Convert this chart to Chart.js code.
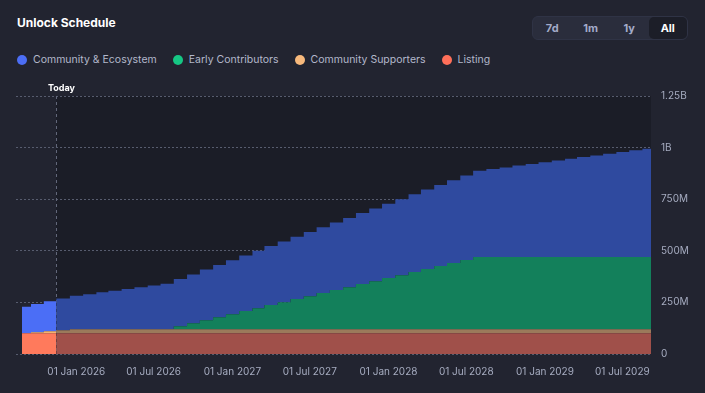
<!DOCTYPE html>
<html>
<head>
<meta charset="utf-8">
<script src="https://cdn.jsdelivr.net/npm/chart.js@4.4.1/dist/chart.umd.min.js"></script>
<style>
  html, body { margin: 0; padding: 0; }
  body { width: 705px; height: 393px; background: #222430; font-family: Inter, 'Noto Sans', sans-serif; overflow: hidden; position: relative; }
  .title { position: absolute; left: 17px; top: 15px; font-size: 12px; font-weight: 700; color: #fff; line-height: 16px; }
  .range { position: absolute; left: 532px; top: 16px; width: 156px; height: 24px; box-sizing: border-box; border: 1px solid #2f3345; background: #2a2d3c; border-radius: 6px; display: flex; }
  .range span { flex: 1; text-align: center; line-height: 22px; font-size: 11px; font-weight: 700; color: #a3abc9; border-radius: 5px; }
  .range span.active { background: #1c1e28; color: #fff; }
  .legend { position: absolute; left: 17px; top: 52px; display: flex; gap: 16px; font-size: 10.5px; color: #b3b8cb; line-height: 16px; }
  .legend div { display: flex; align-items: center; }
  .legend i { width: 10px; height: 10px; border-radius: 50%; margin-right: 6px; display: inline-block; }
  #wrap { position: absolute; left: 0; top: 70px; width: 705px; height: 323px; }
</style>
</head>
<body>
<div class="title">Unlock Schedule</div>
<div class="range"><span>7d</span><span>1m</span><span>1y</span><span class="active">All</span></div>
<div class="legend" id="legend"></div>
<div id="wrap"><canvas id="chart"></canvas></div>
<script>
// unlock dates (step starts at each date)
const dates = [
  '2025-08-27',
  '2025-09-17', '2025-10-17', '2025-11-15', '2025-12-17',
  '2026-01-17', '2026-02-17', '2026-03-17', '2026-04-17', '2026-05-17', '2026-06-17',
  '2026-07-17', '2026-08-17', '2026-09-17', '2026-10-17', '2026-11-17', '2026-12-17',
  '2027-01-17', '2027-02-17', '2027-03-17', '2027-04-17', '2027-05-17', '2027-06-17',
  '2027-07-17', '2027-08-17', '2027-09-17', '2027-10-17', '2027-11-17', '2027-12-17',
  '2028-01-17', '2028-02-17', '2028-03-17', '2028-04-17', '2028-05-17', '2028-06-17',
  '2028-07-17', '2028-08-17', '2028-09-17', '2028-10-17', '2028-11-17', '2028-12-17',
  '2029-01-17', '2029-02-17', '2029-03-17', '2029-04-17', '2029-05-17', '2029-06-17',
  '2029-07-17', '2029-08-17',
  '2029-09-06'
]

// cumulative unlocked, millions of tokens
const listing = [
  100, 100, 100, 100, 100, 100, 100, 100, 100, 100,
  100, 100, 100, 100, 100, 100, 100, 100, 100, 100,
  100, 100, 100, 100, 100, 100, 100, 100, 100, 100,
  100, 100, 100, 100, 100, 100, 100, 100, 100, 100,
  100, 100, 100, 100, 100, 100, 100, 100, 100, 100
]
const supporters = [
  0, 5, 10, 15, 20, 20, 20, 20, 20, 20,
  20, 20, 20, 20, 20, 20, 20, 20, 20, 20,
  20, 20, 20, 20, 20, 20, 20, 20, 20, 20,
  20, 20, 20, 20, 20, 20, 20, 20, 20, 20,
  20, 20, 20, 20, 20, 20, 20, 20, 20, 20
]
const contributors = [
  0, 0, 0, 0, 0, 0, 0, 0, 0, 0,
  0, 0, 15, 29, 44, 58, 73, 88, 102, 117,
  131, 146, 160, 175, 190, 204, 219, 233, 248, 262,
  277, 292, 306, 321, 335, 350, 350, 350, 350, 350,
  350, 350, 350, 350, 350, 350, 350, 350, 350, 350
]
const community = [
  129, 137, 146, 154, 162, 170, 179, 187, 195, 203,
  212, 220, 228, 236, 245, 253, 261, 269, 278, 286,
  294, 302, 311, 319, 327, 335, 344, 352, 360, 368,
  377, 385, 393, 401, 410, 418, 426, 434, 443, 451,
  459, 467, 476, 484, 492, 500, 509, 517, 525, 530
]

const todayDate = '2025-11-15'
const xMin = '2025-08-13'
const xMax = '2029-09-06'
const tickDates = ['2026-01-01', '2026-07-01', '2027-01-01', '2027-07-01', '2028-01-01', '2028-07-01', '2029-01-01', '2029-07-01']
const yTicks = [0, 250, 500, 750, 1000, 1250]

// bottom of the stack first
const series = [
  { label: 'Listing', values: listing, bright: '#ff7a5c', dim: '#a0504a', dot: '#ff6f59' },
  { label: 'Community Supporters', values: supporters, bright: '#f2b472', dim: '#9b7a5b', dot: '#f7b97c' },
  { label: 'Early Contributors', values: contributors, bright: '#17c07f', dim: '#13805b', dot: '#16c784' },
  { label: 'Community & Ecosystem', values: community, bright: '#4b6ef6', dim: '#2f4a9f', dot: '#4c6ef5' },
]

const months = ['Jan', 'Feb', 'Mar', 'Apr', 'May', 'Jun', 'Jul', 'Aug', 'Sep', 'Oct', 'Nov', 'Dec']
const todayTs = Date.parse(todayDate)

function fmtDate(v) {
  const d = new Date(v)
  return String(d.getUTCDate()).padStart(2, '0') + ' ' + months[d.getUTCMonth()] + ' ' + d.getUTCFullYear()
}
function fmtTokens(v) {
  if (v === 0) return '0'
  if (v >= 1000) return (v / 1000) + 'B'
  return v + 'M'
}

// html legend, top of stack first
const legendEl = document.getElementById('legend')
series.slice().reverse().forEach((s) => {
  const item = document.createElement('div')
  item.innerHTML = '<i style="background:' + s.dot + '"></i>' + s.label
  legendEl.appendChild(item)
})

const todayPlugin = {
  id: 'today',
  beforeDraw(chart) {
    const { ctx, chartArea: a, scales: { x } } = chart
    const tx = Math.round(x.getPixelForValue(todayTs))
    ctx.save()
    ctx.fillStyle = '#1b1d27'
    ctx.fillRect(tx, a.top, a.right - tx, a.bottom - a.top)
    ctx.restore()
  },
  beforeDatasetsDraw(chart) {
    const { ctx, chartArea: a, scales: { x } } = chart
    const tx = Math.round(x.getPixelForValue(todayTs)) + 0.5
    ctx.save()
    ctx.strokeStyle = '#62677a'
    ctx.lineWidth = 1
    ctx.setLineDash([3, 3])
    ctx.beginPath()
    ctx.moveTo(tx, a.top)
    ctx.lineTo(tx, a.bottom)
    ctx.stroke()
    ctx.restore()
  },
  afterDraw(chart) {
    const { ctx, chartArea: a, scales: { x } } = chart
    const tx = Math.round(x.getPixelForValue(todayTs))
    ctx.save()
    ctx.fillStyle = '#ffffff'
    ctx.font = 'bold 9px Inter'
    ctx.textAlign = 'left'
    ctx.textBaseline = 'middle'
    ctx.fillText('Today', tx - 8, a.top - 8)
    ctx.restore()
  },
}

Chart.defaults.font.family = 'Inter'

new Chart(document.getElementById('chart'), {
  type: 'line',
  data: {
    datasets: series.map((s, i) => ({
      label: s.label,
      data: s.values.map((v, j) => ({ x: Date.parse(dates[j]), y: v })),
      fill: i === 0 ? 'origin' : '-1',
      backgroundColor: s.dim,
      borderColor: s.dim,
      borderWidth: 0,
      pointRadius: 0,
      pointHoverRadius: 0,
      stepped: true,
      segment: {
        backgroundColor: (ctx) => (ctx.p0.parsed.x < todayTs ? s.bright : s.dim),
      },
    })),
  },
  options: {
    responsive: true,
    maintainAspectRatio: false,
    animation: false,
    layout: { padding: { left: 16, right: 10, top: 26, bottom: 3 } },
    plugins: {
      legend: { display: false },
      tooltip: { enabled: false },
    },
    scales: {
      x: {
        type: 'linear',
        min: Date.parse(xMin),
        max: Date.parse(xMax),
        grid: { display: false, drawTicks: false },
        border: { display: false },
        afterBuildTicks: (s) => {
          s.ticks = tickDates.map((d) => ({ value: Date.parse(d) }))
        },
        ticks: {
          padding: 12,
          autoSkip: false,
          maxRotation: 0,
          color: '#a6acc0',
          font: { size: 10 },
          callback: (v) => fmtDate(v),
        },
      },
      y: {
        position: 'right',
        stacked: true,
        min: 0,
        max: 1250,
        afterFit: (s) => {
          s.width = 44
        },
        afterBuildTicks: (s) => {
          s.ticks = yTicks.map((v) => ({ value: v }))
        },
        grid: { color: '#575c6e', drawTicks: false },
        border: { display: false, dash: [2, 2] },
        ticks: {
          padding: 10,
          color: '#a6acc0',
          font: { size: 10 },
          callback: (v) => fmtTokens(v),
        },
      },
    },
  },
  plugins: [todayPlugin],
})
</script>
</body>
</html>
